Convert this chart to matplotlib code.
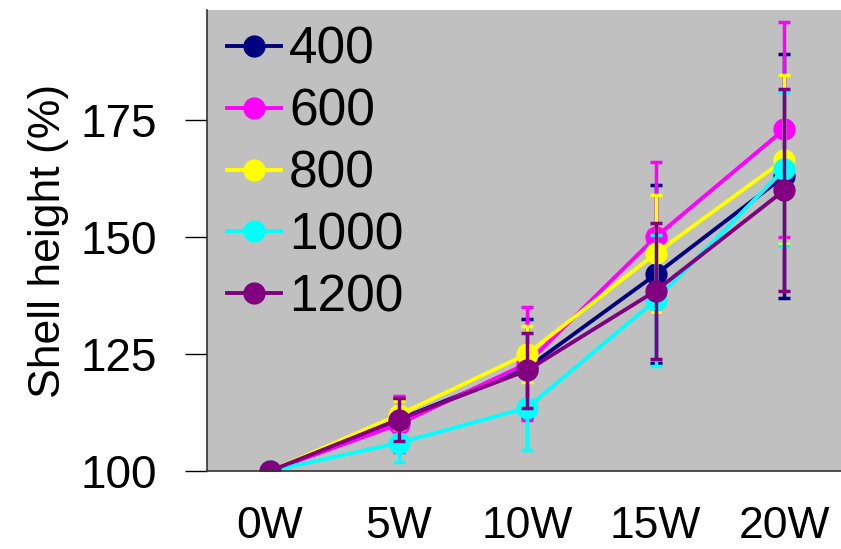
import numpy as np
import matplotlib.pyplot as plt

plt.rcParams['font.family'] = ['Liberation Sans', 'DejaVu Sans']

# semanas e grupos
weeks = ['0W', '5W', '10W', '15W', '20W']
groups = ['400', '600', '800', '1000', '1200']
colors = ['#000080', '#FF00FF', '#FFFF00', '#00FFFF', '#800080']

# altura da concha (%) e desvios
h400 = [100, 111, 122, 142, 163]
h600 = [100, 110, 123, 150, 173]
h800 = [100, 112, 125, 146.5, 166.5]
h1000 = [100, 106, 113.5, 136.5, 164.5]
h1200 = [100, 111, 121.5, 138.5, 160]

e400 = [0, 4.5, 10.5, 19, 26]
e600 = [0, 6, 12, 16, 23]
e800 = [0, 3, 6, 12.5, 18]
e1000 = [0, 4, 9, 14, 16.5]
e1200 = [0, 4.5, 8, 14.5, 21.5]

heights = [h400, h600, h800, h1000, h1200]
errors = [e400, e600, e800, e1000, e1200]

fig = plt.figure(figsize=(8.41, 5.49), dpi=100)
ax = fig.add_axes([0.246, 0.142, 0.754, 0.840])
ax.set_facecolor('#C0C0C0')

x = np.arange(len(weeks))
for g, c, h, e in zip(groups, colors, heights, errors):
    ax.errorbar(x, h, yerr=e, fmt='none', ecolor=c, elinewidth=2.5,
                capsize=4.5, capthick=2.5)
    ax.plot(x, h, color=c, marker='o', markersize=15, linewidth=2.8, label=g)

ax.set_xlim(-0.49, 4.44)
ax.set_ylim(100, 198.5)
ax.set_xticks(x)
ax.set_xticklabels(weeks)
ax.set_yticks([100, 125, 150, 175])
ax.tick_params(axis='x', length=0, pad=25, labelsize=32)
ax.tick_params(axis='y', length=16, width=1, pad=20, labelsize=33)
ax.set_ylabel('Shell height (%)', fontsize=32, labelpad=8)

for s in ['top', 'right']:
    ax.spines[s].set_visible(False)
for s in ['left', 'bottom']:
    ax.spines[s].set_color('#333333')
    ax.spines[s].set_linewidth(1.2)

ax.legend(loc='upper left', frameon=False, fontsize=37, handlelength=1.05,
          handletextpad=0.15, labelspacing=0.25, borderaxespad=0.0,
          bbox_to_anchor=(0.0, 1.01))

fig.savefig('out.png', dpi=100)
